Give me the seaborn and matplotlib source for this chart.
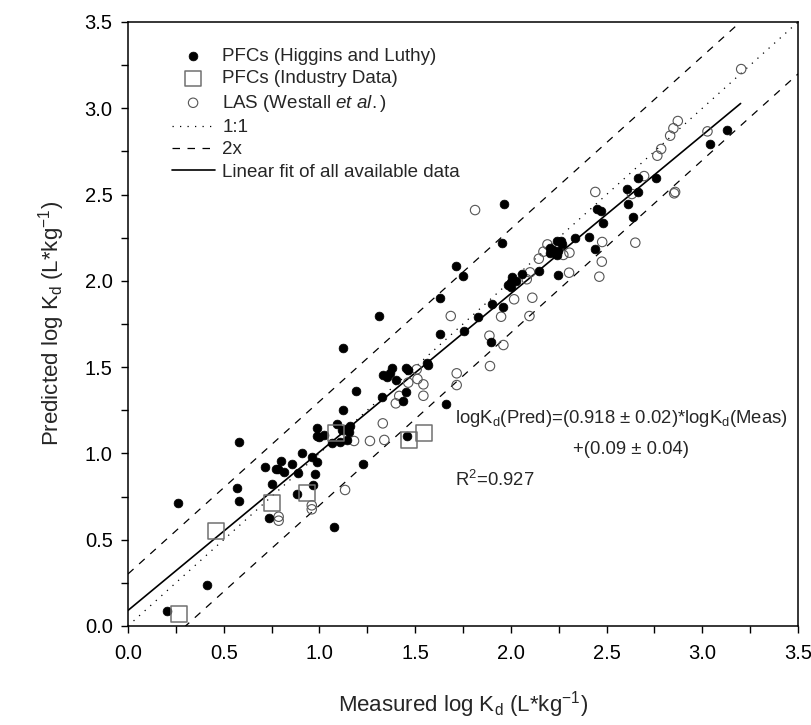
import numpy as np
import pandas as pd
import matplotlib
matplotlib.use("Agg")
import matplotlib.pyplot as plt
from matplotlib.ticker import MultipleLocator
import seaborn as sns

# PFCs (Higgins and Luthy): measured vs predicted log Kd
hl_meas = [0.202, 0.261, 0.414, 0.571, 0.580, 0.582, 0.717, 0.738, 0.752, 0.773,
           0.785, 0.799, 0.817, 0.858, 0.885, 0.888, 0.909, 0.961, 0.965, 0.979,
           0.986, 0.986, 0.989, 0.999, 1.024, 1.066, 1.078, 1.094, 1.108, 1.117,
           1.122, 1.125, 1.139, 1.146, 1.156, 1.160, 1.191, 1.230, 1.313, 1.327,
           1.334, 1.355, 1.369, 1.378, 1.400, 1.438, 1.452, 1.452, 1.459, 1.461,
           1.562, 1.569, 1.630, 1.630, 1.660, 1.712, 1.752, 1.757, 1.830, 1.897,
           1.903, 1.956, 1.961, 1.963, 1.987, 1.999, 2.001, 2.008, 2.027, 2.057,
           2.146, 2.205, 2.205, 2.222, 2.231, 2.240, 2.243, 2.248, 2.248, 2.261,
           2.266, 2.337, 2.410, 2.441, 2.449, 2.470, 2.483, 2.609, 2.612, 2.640,
           2.663, 2.665, 2.757, 3.041, 3.128]
hl_pred = [0.087, 0.713, 0.239, 0.801, 0.726, 1.066, 0.921, 0.624, 0.821, 0.911,
           0.911, 0.958, 0.891, 0.940, 0.767, 0.885, 1.004, 0.977, 0.815, 0.879,
           1.145, 1.101, 0.950, 1.093, 1.107, 1.062, 0.575, 1.170, 1.066, 1.136,
           1.251, 1.609, 1.140, 1.078, 1.126, 1.159, 1.362, 0.940, 1.798, 1.329,
           1.454, 1.441, 1.464, 1.493, 1.425, 1.305, 1.357, 1.497, 1.103, 1.483,
           1.522, 1.514, 1.690, 1.902, 1.286, 2.087, 2.030, 1.711, 1.792, 1.645,
           1.867, 2.219, 1.850, 2.445, 1.976, 1.966, 1.995, 2.024, 1.999, 2.039,
           2.059, 2.188, 2.159, 2.178, 2.159, 2.231, 2.149, 2.173, 2.036, 2.231,
           2.213, 2.246, 2.256, 2.184, 2.416, 2.406, 2.333, 2.532, 2.443, 2.371,
           2.597, 2.516, 2.597, 2.793, 2.874]

# PFCs (Industry Data)
ind_meas = [0.265, 0.458, 0.752, 0.937, 1.085, 1.470, 1.547]
ind_pred = [0.070, 0.552, 0.711, 0.771, 1.116, 1.078, 1.116]

# LAS (Westall et al.)
las_meas = [0.787, 0.787, 0.960, 0.960, 1.134, 1.181, 1.264, 1.339, 1.331, 1.399,
            1.417, 1.543, 1.464, 1.543, 1.512, 1.508, 1.717, 1.717, 1.891, 1.888,
            1.961, 1.686, 1.813, 1.949, 2.097, 2.017, 2.112, 2.083, 2.100, 2.146,
            2.170, 2.191, 2.274, 2.306, 2.304, 2.462, 2.475, 2.477, 2.441, 2.632,
            2.650, 2.696, 2.765, 2.785, 2.832, 2.849, 2.872, 2.853, 2.858, 3.027,
            3.203]
las_pred = [0.633, 0.610, 0.699, 0.676, 0.788, 1.072, 1.072, 1.078, 1.174, 1.290,
            1.333, 1.334, 1.410, 1.400, 1.431, 1.487, 1.396, 1.464, 1.506, 1.682,
            1.628, 1.796, 2.410, 1.792, 1.796, 1.893, 1.902, 2.009, 2.049, 2.128,
            2.169, 2.211, 2.150, 2.163, 2.047, 2.024, 2.111, 2.225, 2.515, 2.503,
            2.221, 2.607, 2.725, 2.764, 2.841, 2.884, 2.926, 2.507, 2.515, 2.866,
            3.227]

# linear fit and reference lines
fit_slope = 0.918
fit_intercept = 0.09
fit_x_range = [0.0, 3.2]
axis_range = [0.0, 3.5]
factor_two = np.log10(2)

sns.set_style("ticks")
plt.rcParams['font.family'] = ['Liberation Sans', 'DejaVu Sans']
plt.rcParams['mathtext.fontset'] = 'custom'
plt.rcParams['mathtext.rm'] = 'Liberation Sans'
plt.rcParams['mathtext.it'] = 'Liberation Sans:italic'
plt.rcParams['mathtext.bf'] = 'Liberation Sans:bold'

fig = plt.figure(figsize=(8.12, 7.25), dpi=100)
ax = fig.add_axes([0.1576, 0.1366, 0.8252, 0.8331])

sns.scatterplot(x=hl_meas, y=hl_pred, ax=ax, marker='o', s=40, color='black',
                edgecolor='black', linewidth=0.5, label='PFCs (Higgins and Luthy)', zorder=4)
sns.scatterplot(x=ind_meas, y=ind_pred, ax=ax, marker='s', s=130, facecolor='none',
                edgecolor='#707070', linewidth=1.1, label='PFCs (Industry Data)', zorder=5)
sns.scatterplot(x=las_meas, y=las_pred, ax=ax, marker='o', s=46, facecolor='none',
                edgecolor='#555555', linewidth=0.8, label='LAS (Westall $\\mathit{et\\ al.}$)', zorder=3)

ref_x = np.array(axis_range)
ax.plot(ref_x, ref_x, color='black', lw=0.9, linestyle=(0, (1, 5)), label='1:1')
ax.plot(ref_x, ref_x + factor_two, color='black', lw=0.9, linestyle=(0, (6, 6)), label='2x')
ax.plot(ref_x, ref_x - factor_two, color='black', lw=0.9, linestyle=(0, (6, 6)))
fit_x = np.array(fit_x_range)
ax.plot(fit_x, fit_slope * fit_x + fit_intercept, color='black', lw=1.2,
        label='Linear fit of all available data')

ax.set_xlim(axis_range)
ax.set_ylim(axis_range)
ax.xaxis.set_major_locator(MultipleLocator(0.5))
ax.yaxis.set_major_locator(MultipleLocator(0.5))
ax.xaxis.set_minor_locator(MultipleLocator(0.25))
ax.yaxis.set_minor_locator(MultipleLocator(0.25))
ax.tick_params(which='both', direction='out', length=5, width=1, labelsize=14.5, colors='black')
ax.tick_params(axis='x', which='major', pad=8)
ax.tick_params(axis='y', which='major', pad=6)
for sp in ax.spines.values():
    sp.set_visible(True)
    sp.set_linewidth(1.1)
    sp.set_color('black')

ax.set_xlabel('Measured log K$_\\mathregular{d}$ (L*kg$^\\mathregular{-1}$)', fontsize=16, labelpad=19)
ax.set_ylabel('Predicted log K$_\\mathregular{d}$ (L*kg$^\\mathregular{-1}$)', fontsize=16, labelpad=13)

eq_size = 13.3
ax.text(1.708, 1.205, 'logK$_\\mathregular{d}$(Pred)=(0.918 ± 0.02)*logK$_\\mathregular{d}$(Meas)',
        fontsize=eq_size, va='center', ha='left')
ax.text(2.628, 1.02, '+(0.09 ± 0.04)', fontsize=eq_size, va='center', ha='center')
ax.text(1.708, 0.846, 'R$^\\mathregular{2}$=0.927', fontsize=eq_size, va='center', ha='left')

ax.legend(loc='upper left', bbox_to_anchor=(0.065, 0.957), frameon=False, fontsize=13.5,
          handlelength=2.3, handletextpad=0.4, labelspacing=0.28, borderaxespad=0,
          borderpad=0)

fig.savefig('out.png', dpi=100)
